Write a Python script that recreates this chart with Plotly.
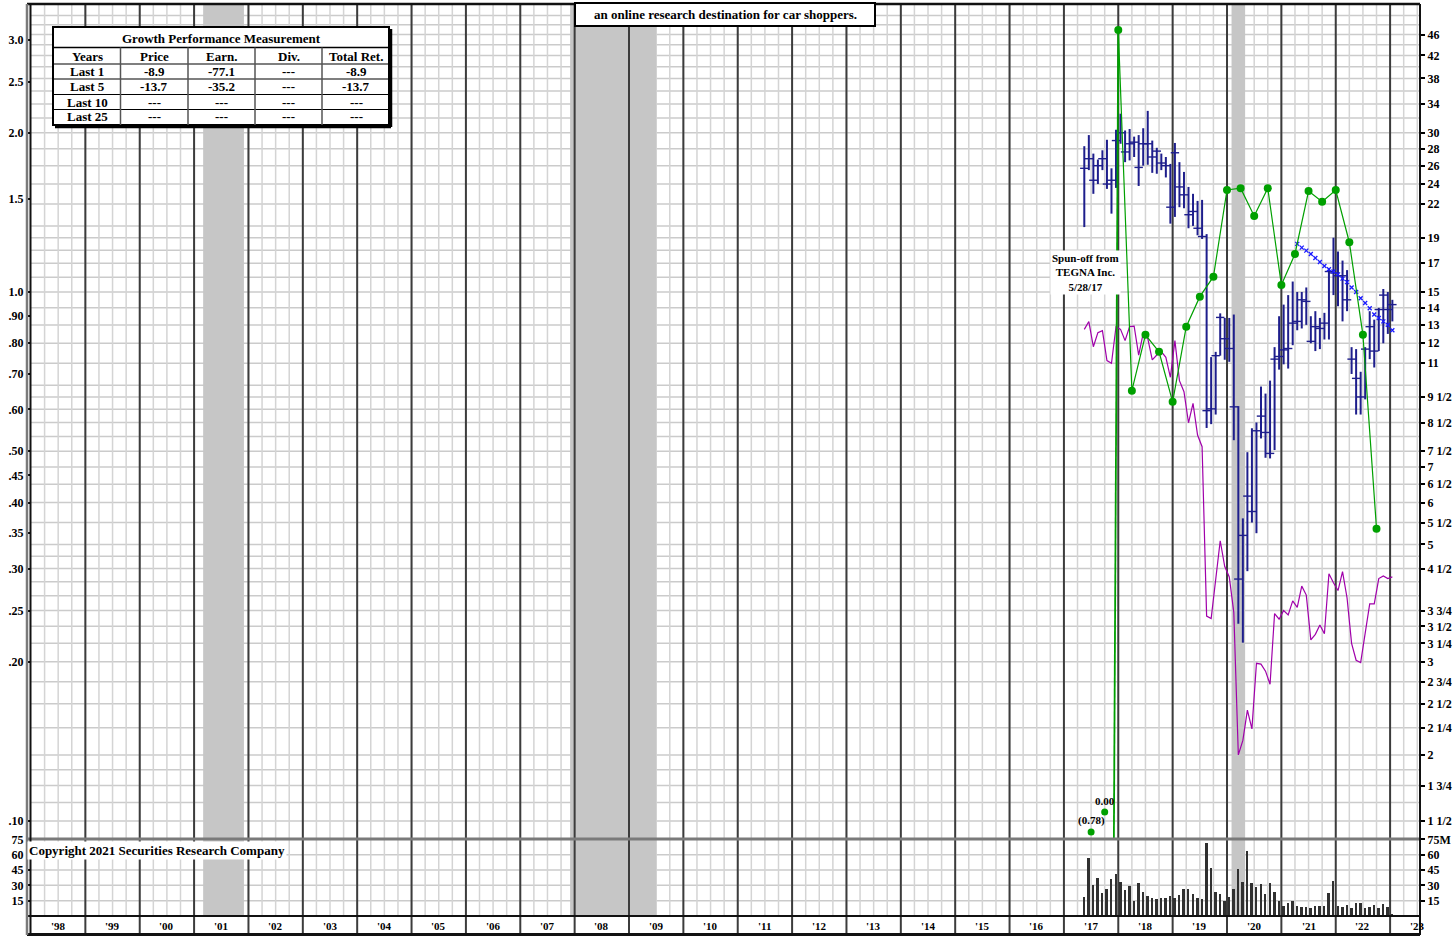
import numpy as np
import pandas as pd
import plotly.graph_objects as go

FONT = "Liberation Serif"
W, H = 1453, 939
PL, PR, PT, PB = 31, 1420, 4, 935   # plot-area edges in pixels (layout only)

def PX(px):
    return (px - PL) / (PR - PL)

def PY(py):
    return (PB - py) / (PB - PT)

# ---------------- data ----------------
months = pd.period_range("2017-05", "2023-01", freq="M")   # monthly bars

price_high = [28.3, 29.7, 27.4, 26.7, 27.8, 29.1, 25.7, 30.4, 32.6, 30.3,
              30.5, 29.5, 29.7, 30.6, 33.0, 29.0, 28.1, 27.4, 27.0, 26.2,
              28.7, 26.4, 25.3, 23.7, 23.0, 22.3, 22.4, 19.3, 11.3, 11.56,
              13.67, 13.4, 13.4, 13.6, 9.13, 5.6, 7.47, 8.29, 8.5, 9.94,
              9.64, 10.2, 11.8, 13.5, 14.2, 14.8, 15.7, 15.0, 15.0, 15.3,
              13.5, 13.8, 13.4, 13.7, 16.6, 19.0, 17.9, 17.2, 16.5, 11.8,
              11.7, 10.6, 11.8, 13.8, 13.3, 14.0, 15.2, 15.0, 14.5]
price_low = [19.9, 25.5, 23.0, 24.0, 25.5, 23.5, 21.1, 23.6, 28.6, 26.4,
             26.6, 27.0, 23.8, 26.0, 26.1, 25.2, 25.1, 25.5, 24.7, 20.2,
             20.8, 21.7, 21.6, 19.8, 20.0, 19.2, 18.9, 8.3, 8.44, 8.8,
             11.37, 11.17, 11.07, 7.87, 3.54, 3.26, 4.45, 5.5, 5.25, 7.93,
             7.29, 7.27, 7.54, 10.7, 10.95, 10.75, 11.9, 12.7, 12.8, 13.0,
             12.0, 11.6, 11.7, 12.2, 12.2, 14.8, 14.1, 13.2, 13.8, 10.5,
             8.8, 8.8, 9.4, 11.2, 10.8, 11.6, 12.0, 12.5, 13.2]
price_close = [25.7, 26.8, 24.4, 26.0, 26.8, 24.0, 24.4, 29.0, 30.0, 27.6,
               28.6, 28.8, 25.8, 28.6, 28.6, 27.0, 27.7, 26.3, 26.0, 21.7,
               27.5, 23.7, 22.9, 21.0, 21.3, 19.8, 19.1, 8.95, 9.02, 11.37,
               13.43, 12.24, 11.73, 9.1, 4.3, 5.2, 6.17, 5.77, 8.2, 8.74,
               8.14, 7.43, 11.2, 11.33, 11.66, 11.73, 13.1, 13.2, 14.5, 14.4,
               12.1, 12.9, 12.8, 13.1, 16.4, 16.3, 16.1, 16.1, 14.5, 11.2,
               10.3, 9.5, 11.7, 12.9, 11.6, 13.9, 14.8, 13.9, 14.2]
volume_m = [18.9, 57, 30.3, 36.8, 22.2, 26.1, 35.9, 41, 32.9, 25.4,
            29.3, 15, 32, 23.8, 19.8, 17.3, 16.6, 17.9, 17.3, 19.8,
            17.3, 20.5, 26.1, 26.1, 21.2, 17.3, 16.6, 71.7, 47.2, 23.8,
            21.2, 15, 18.3, 26.4, 45.6, 33.5, 63.5, 32.6, 28.7, 31.3,
            21.5, 32, 23.2, 15, 9.8, 13, 14.7, 9.8, 9.1, 8.5,
            8.1, 9.8, 9.8, 9.8, 22.8, 34.2, 9.8, 8.5, 10.8, 7.5,
            13, 13, 7.5, 8.5, 10.8, 7.5, 11.7, 9.1, 1.7]
rel_strength = [12.75, 13.19, 11.82, 12.57, 12.68, 11.13, 11.0, 12.90, 12.75, 12.14,
                12.90, 12.93, 11.40, 12.53, 12.26, 11.16, 11.40, 11.57, 11.29, 10.35,
                12.14, 10.20, 9.72, 8.49, 9.24, 8.05, 7.65, 3.66, 3.62, 4.34,
                5.08, 4.54, 4.34, 3.72, 2.00, 2.13, 2.43, 2.24, 2.98, 2.97,
                2.88, 2.72, 3.70, 3.61, 3.75, 3.68, 3.91, 3.80, 4.17, 4.01,
                3.30, 3.38, 3.52, 3.39, 4.40, 4.23, 4.09, 4.44, 3.96, 3.25,
                3.02, 2.99, 3.39, 3.86, 3.86, 4.31, 4.36, 4.31, 4.34]
ma_months = pd.period_range("2021-04", "2023-01", freq="M")
ma_values = [18.5, 18.2, 17.96, 17.7, 17.4, 17.1, 16.8, 16.56, 16.4, 16.2, 15.9,
             15.66, 15.3, 15.0, 14.6, 14.3, 13.98, 13.6, 13.4, 13.2, 13.0, 12.7]

eps_quarters = pd.period_range("2017Q4", "2022Q3", freq="Q")
eps_values = [3.13, 0.651, 0.830, 0.771, 0.620, 0.860, 0.980, 1.069, 1.559, 1.571,
              1.392, 1.571, 1.031, 1.180, 1.552, 1.482, 1.559, 1.242, 0.830, 0.357]
eps_low_quarters = pd.PeriodIndex(["2017Q2", "2017Q3"], freq="Q")
eps_low_labels = ["(0.78)", "0.00"]
eps_low_marks = [0.0953, 0.104]       # where the non-positive values are parked
eps_connector_floor = 0.00006         # line from the 0.00 quarter rises from far below

recessions = [("2001-03", "2001-11"), ("2007-12", "2009-06"), ("2020-02", "2020-04")]
years = list(range(1998, 2024))

right_tick_vals = [46, 42, 38, 34, 30, 28, 26, 24, 22, 19, 17, 15, 14, 13, 12, 11,
                   9.5, 8.5, 7.5, 7, 6.5, 6, 5.5, 5, 4.5, 3.75, 3.5, 3.25, 3,
                   2.75, 2.5, 2.25, 2, 1.75, 1.5]
right_tick_text = ["46", "42", "38", "34", "30", "28", "26", "24", "22", "19", "17",
                   "15", "14", "13", "12", "11", "9 1/2", "8 1/2", "7 1/2", "7",
                   "6 1/2", "6", "5 1/2", "5", "4 1/2", "3 3/4", "3 1/2", "3 1/4",
                   "3", "2 3/4", "2 1/2", "2 1/4", "2", "1 3/4", "1 1/2"]
left_tick_vals = [3.0, 2.5, 2.0, 1.5, 1.0, 0.9, 0.8, 0.7, 0.6, 0.5, 0.45, 0.4,
                  0.35, 0.3, 0.25, 0.2, 0.1]
left_tick_text = ["3.0", "2.5", "2.0", "1.5", "1.0", ".90", ".80", ".70", ".60",
                  ".50", ".45", ".40", ".35", ".30", ".25", ".20", ".10"]
grid_vals = [50, 48, 46, 44, 42, 40, 38, 36, 34, 32, 30, 28, 26, 24, 22, 20, 19,
             18, 17, 16, 15, 14, 13, 12, 11, 10, 9.5, 9, 8.5, 8, 7.5, 7, 6.5, 6,
             5.5, 5, 4.75, 4.5, 4.25, 4, 3.75, 3.5, 3.25, 3, 2.75, 2.5, 2.25, 2,
             1.875, 1.75, 1.625, 1.5]
vol_tick_vals = [15, 30, 45, 60, 75]
vol_grid_vals = [15, 30, 45, 60]
vol_left_text = ["15", "30", "45", "60", "75"]
vol_right_text = ["15", "30", "45", "60", "75M"]

perf_cols = ["Years", "Price", "Earn.", "Div.", "Total Ret."]
perf_rows = ["Last 1", "Last 5", "Last 10", "Last 25"]
perf_price = ["-8.9", "-13.7", "---", "---"]
perf_earn = ["-77.1", "-35.2", "---", "---"]
perf_div = ["---", "---", "---", "---"]
perf_total = ["-8.9", "-13.7", "---", "---"]

price_axis = (1.393, 52.55)
eps_ratio = 15.0
vol_axis_max = 75.3
x_range = (1998.0, 2023.55)

# ---------------- helpers ----------------
def mid_month(p):
    return p.year + (p.month - 0.5) / 12.0

def q_end(q):
    return q.year + q.quarter / 4.0

t = [mid_month(p) for p in months]
t_ma = [mid_month(p) for p in ma_months]
t_eps = [q_end(q) for q in eps_quarters]
t_eps_low = [q_end(q) for q in eps_low_quarters]

NAVY = "#1e1e8c"
GREEN = "#00a000"
PURPLE = "#a000aa"

fig = go.Figure()

# volume
fig.add_trace(go.Bar(x=t, y=volume_m, width=0.036, marker=dict(color="#303030", line=dict(width=0)),
                     yaxis="y2", hoverinfo="skip"))

# relative strength
fig.add_trace(go.Scatter(x=t, y=rel_strength, mode="lines", line=dict(color=PURPLE, width=1.2),
                         yaxis="y", hoverinfo="skip"))

# price bars
bx, by = [], []
for ti, h, l in zip(t, price_high, price_low):
    bx += [ti, ti, None]
    by += [l, h, None]
fig.add_trace(go.Scatter(x=bx, y=by, mode="lines", line=dict(color=NAVY, width=2),
                         yaxis="y", hoverinfo="skip"))
fig.add_trace(go.Scatter(x=t, y=price_close, mode="markers",
                         marker=dict(symbol="line-ew", size=6, color=NAVY, line=dict(color=NAVY, width=1.4)),
                         yaxis="y", hoverinfo="skip"))

# moving-average x's
fig.add_trace(go.Scatter(x=t_ma, y=ma_values, mode="markers",
                         marker=dict(symbol="x-thin", size=4, color="#1a1aff", line=dict(color="#1a1aff", width=1.3)),
                         yaxis="y", hoverinfo="skip"))

# earnings
fig.add_trace(go.Scatter(x=[t_eps_low[-1], t_eps[0]], y=[eps_connector_floor, eps_values[0]],
                         mode="lines", line=dict(color=GREEN, width=1.8), yaxis="y4", hoverinfo="skip"))
fig.add_trace(go.Scatter(x=t_eps, y=eps_values, mode="lines+markers",
                         line=dict(color=GREEN, width=1.2), marker=dict(size=8, color=GREEN),
                         yaxis="y4", hoverinfo="skip"))
fig.add_trace(go.Scatter(x=t_eps_low, y=eps_low_marks, mode="markers",
                         marker=dict(size=7, color=GREEN), yaxis="y4", hoverinfo="skip"))

# dummies for label axes
fig.add_trace(go.Scatter(x=[2000], y=[10], mode="markers", marker=dict(opacity=0),
                         yaxis="y3", hoverinfo="skip"))
fig.add_trace(go.Scatter(x=[2000], y=[10], mode="markers", marker=dict(opacity=0),
                         yaxis="y5", hoverinfo="skip"))

# ---------------- shapes ----------------
shapes = []
GRID_H = "#cbcbcb"
GRID_V = "#d4d4d4"
YEAR_C = "#3c3c3c"
quarters = list(np.arange(x_range[0] + 0.25, x_range[1], 0.25))

def ym_start(s):
    p = pd.Period(s, freq="M")
    return p.year + (p.month - 1) / 12.0

def ym_end(s):
    p = pd.Period(s, freq="M")
    return p.year + p.month / 12.0

panes = [("y", price_axis[0], price_axis[1], grid_vals),
         ("y2", 0.0, vol_axis_max, vol_grid_vals)]
for yr, lo, hi, gv in panes:
    for g in gv:
        shapes.append(dict(type="line", xref="x", yref=yr, x0=x_range[0], x1=x_range[1], y0=g, y1=g,
                           line=dict(color=GRID_H, width=1.5), layer="below"))
    for q in quarters:
        shapes.append(dict(type="line", xref="x", yref=yr, x0=q, x1=q, y0=lo, y1=hi,
                           line=dict(color=GRID_V, width=1.5), layer="below"))
    for a, b in recessions:
        shapes.append(dict(type="rect", xref="x", yref=yr, x0=ym_start(a), x1=ym_end(b), y0=lo, y1=hi,
                           fillcolor="#c6c6c6", line=dict(width=0), layer="below"))
    for yv in years[1:]:
        shapes.append(dict(type="line", xref="x", yref=yr, x0=yv, x1=yv, y0=lo, y1=hi,
                           line=dict(color=YEAR_C, width=2), layer="below"))

for yv in years[1:]:
    shapes.append(dict(type="line", xref="x", yref="paper", x0=yv, x1=yv, y0=0, y1=PY(916),
                       line=dict(color=YEAR_C, width=2), layer="above"))

def hline(py, color, width, x0=PX(PL - 4), x1=1.0):
    shapes.append(dict(type="line", xref="paper", yref="paper", x0=x0, x1=x1, y0=PY(py), y1=PY(py),
                       line=dict(color=color, width=width), layer="above"))

def vline(px, color, width, y0=PT, y1=PB):
    shapes.append(dict(type="line", xref="paper", yref="paper", x0=PX(px), x1=PX(px), y0=PY(y0), y1=PY(y1),
                       line=dict(color=color, width=width), layer="above"))

hline(4, "#111111", 2.5)
hline(839, "#7a7a7a", 3)
hline(916, "#111111", 2)
hline(934.5, "#111111", 3)
vline(27, "#7a7a7a", 2.5)
vline(30.5, "#111111", 2)
vline(1420, "#111111", 2)

def rect(x0, y0, x1, y1, lw=2, fill="white", color="black"):
    shapes.append(dict(type="rect", xref="paper", yref="paper", x0=PX(x0), x1=PX(x1), y0=PY(y1), y1=PY(y0),
                       fillcolor=fill, line=dict(color=color, width=lw), layer="above"))

def seg(x0, y0, x1, y1, color="black", lw=1):
    shapes.append(dict(type="line", xref="paper", yref="paper", x0=PX(x0), x1=PX(x1), y0=PY(y0), y1=PY(y1),
                       line=dict(color=color, width=lw), layer="above"))

# performance table
rect(53, 27, 389, 125)
seg(391, 29, 391, 127, lw=2.5)
seg(55, 127, 391, 127, lw=2.5)
seg(53, 47.5, 389, 47.5, lw=1.5)
for yy in (64, 79, 94.5, 109.5):
    seg(53, yy, 389, yy, lw=1.2)
for xx in (120.5, 188, 255, 322):
    seg(xx, 47.5, xx, 125, color="#555555", lw=1.5)

# title box
rect(575, 3, 875, 26)

# ---------------- annotations ----------------
ann = []

def txt(x, y, s, size=13, xref="paper", yref="paper", xanchor="center", yanchor="middle", **kw):
    ann.append(dict(x=x, y=y, xref=xref, yref=yref, text="<b>" + s + "</b>", showarrow=False,
                    font=dict(family=FONT, size=size, color="black"),
                    xanchor=xanchor, yanchor=yanchor, **kw))

txt(PX(221), PY(38.5), "Growth Performance Measurement", 13)
col_x = [87, 154, 221.5, 288.5, 356]
for cx, c in zip(col_x, perf_cols):
    txt(PX(cx), PY(56), c, 13)
row_y = [71.5, 86.5, 102, 117]
for ry, r, a, b, c, d in zip(row_y, perf_rows, perf_price, perf_earn, perf_div, perf_total):
    for cx, s in zip(col_x, [r, a, b, c, d]):
        txt(PX(cx), PY(ry), s, 13)

txt(PX(725), PY(14.5), "an online research destination for car shoppers.", 13)
txt(PX(27), PY(850), "Copyright 2021 Securities Research Company", 13, xanchor="left", bgcolor="white")
txt(PX(1085), PY(272), "Spun-off from<br>TEGNA Inc.<br>5/28/17", 11, bgcolor="white")

for ti, lab, mv in zip(t_eps_low, eps_low_labels, eps_low_marks):
    txt(ti, np.log10(mv), lab, 11, xref="x", yref="y4", yanchor="bottom", yshift=3)

for yv in years:
    txt(yv + 0.5, PY(925.5), "'" + str(yv)[2:], 11, xref="x")

# ---------------- layout ----------------
tickfont = dict(family=FONT, size=12, color="black", weight="bold")
plog = [np.log10(price_axis[0]), np.log10(price_axis[1])]
elog = [np.log10(price_axis[0] / eps_ratio), np.log10(price_axis[1] / eps_ratio)]

fig.update_layout(
    width=W, height=H,
    margin=dict(l=PL, r=W - PR, t=PT, b=H - PB, autoexpand=False),
    paper_bgcolor="white", plot_bgcolor="rgba(0,0,0,0)",
    showlegend=False, bargap=0,
    xaxis=dict(range=list(x_range), showticklabels=False, ticks="",
               showgrid=False, zeroline=False, anchor="y2", showline=False, fixedrange=True),
    yaxis=dict(type="log", range=plog, domain=[PY(838), 1.0],
               showticklabels=False, ticks="", showgrid=False, zeroline=False, anchor="x",
               fixedrange=True),
    yaxis3=dict(type="log", range=plog, overlaying="y", side="right", anchor="x",
                tickvals=right_tick_vals, ticktext=right_tick_text, ticks="outside",
                ticklen=4, tickwidth=1.5, tickcolor="black", showgrid=False, zeroline=False,
                tickfont=tickfont, fixedrange=True),
    yaxis4=dict(type="log", range=elog, overlaying="y", side="left", anchor="x",
                tickvals=left_tick_vals, ticktext=left_tick_text, ticks="outside",
                ticklen=4, tickwidth=1.5, tickcolor="black", showgrid=False, zeroline=False,
                tickfont=tickfont, fixedrange=True),
    yaxis2=dict(range=[0, vol_axis_max], domain=[PY(916), PY(839)], anchor="x", side="left",
                tickvals=vol_tick_vals, ticktext=vol_left_text, ticks="outside", ticklen=4,
                tickwidth=1.5, tickcolor="black", showgrid=False, zeroline=False,
                tickfont=tickfont, fixedrange=True),
    yaxis5=dict(range=[0, vol_axis_max], overlaying="y2", side="right", anchor="x",
                tickvals=vol_tick_vals, ticktext=vol_right_text, ticks="outside", ticklen=4,
                tickwidth=1.5, tickcolor="black", showgrid=False, zeroline=False,
                tickfont=tickfont, fixedrange=True),
    shapes=shapes,
    annotations=ann,
)

fig.write_html("out.html", config={"displayModeBar": False},
               post_script="document.body.style.margin='0';")
